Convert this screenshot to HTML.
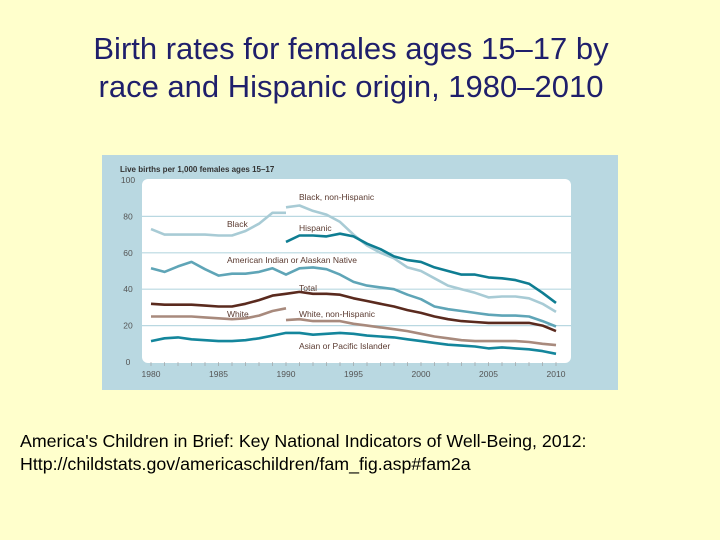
<!DOCTYPE html>
<html><head><meta charset="utf-8"><style>
body{margin:0;width:720px;height:540px;background:#ffffcc;font-family:"Liberation Sans",sans-serif;overflow:hidden;position:relative}
#title{position:absolute;left:0;width:702px;top:30px;text-align:center;font-size:31px;line-height:38px;color:#1f1f6b;white-space:nowrap}
#src{position:absolute;left:20px;top:430px;font-size:17.8px;line-height:23px;color:#000;white-space:nowrap}
svg{position:absolute;left:0;top:0}
</style></head><body>
<div id="title">Birth rates for females ages 15–17 by<br>race and Hispanic origin, 1980–2010</div>
<svg id="chart" width="720" height="540">
<rect x="102" y="155" width="516" height="235" fill="#b9d8e1"/>
<rect x="142" y="179" width="429" height="184" rx="6" fill="#ffffff"/>
<text x="120" y="172" font-size="8" font-weight="bold" fill="#333">Live births per 1,000 females ages 15–17</text>
<g id="grid"></g><g id="lines"></g><g id="labels"></g>
</svg>
<div id="src">America's Children in Brief: Key National Indicators of Well-Being, 2012:<br>Http://childstats.gov/americaschildren/fam_fig.asp#fam2a</div>
<script>
const yTicks=[0,20,40,60,80,100];
const xTicks=[1980,1985,1990,1995,2000,2005,2010];
const black=[73,70,70,70,70,69.5,69.5,72,76,82,82];
const blackNH=[85,86,83,81,77,70,64,60,57,52,50,46,42,40,38,35.5,36,36,35,32,27.5];
const hispanic=[66,69.5,69.5,69,70.5,69,65,62,58,56,55,52,50,48,48,46.5,46,45,43,38,32.5];
const aian=[51.5,49.5,52.5,55,51,47.5,48.5,48.5,49.5,51.5,48,51.5,52,51,48,44,42,41,40,37,34.5,30.5,29,28,27,26,25.5,25.5,25,22.5,19.5];
const total=[32,31.5,31.5,31.5,31,30.5,30.5,32,34,36.5,37.5,38.5,37.5,37.5,37,35,33.5,32,30.5,28.5,27,25,23.5,22.5,22,21.5,21.5,21.5,21.5,20,17];
const white=[25,25,25,25,24.5,24,23.5,24,25.5,28,29.5];
const whiteNH=[23,23.5,22.5,22.5,22.5,21,20,19,18,17,15.5,14,13,12,11.5,11.5,11.5,11.5,11,10,9.3];
const api=[11.5,13,13.5,12.5,12,11.5,11.5,12,13,14.5,16,16,15,15.5,16,15.5,14.5,14,13.5,12.5,11.5,10.5,9.5,9,8.5,7.5,8,7.5,7,6,4.5];
const X=y=>151+(y-1980)*(556-151)/30;
const Y=v=>362-v*1.82;
const NS="http://www.w3.org/2000/svg";
function mk(t,a,p){const e=document.createElementNS(NS,t);for(const k in a)e.setAttribute(k,a[k]);p.appendChild(e);return e;}
const grid=document.getElementById('grid'),lines=document.getElementById('lines'),labels=document.getElementById('labels');
yTicks.forEach(v=>{
 if(v>0&&v<100){const l=mk('line',{x1:142,x2:571,y1:Y(v),y2:Y(v),stroke:'#b9d8e1','stroke-width':1.2},grid);
 
 }
 const t=mk('text',{x:128,y:Y(v)+3,'text-anchor':'middle','font-size':8.5,fill:'#555'},grid);t.textContent=v;
 
 
});
xTicks.forEach(v=>{
 const t=mk('text',{x:X(v),y:377,'text-anchor':'middle','font-size':8.5,fill:'#555'},grid);t.textContent=v;
 
 
});
for(let y=1980;y<=2010;y++){const l=mk('line',{x1:X(y),x2:X(y),y1:362,y2:366,stroke:'#999','stroke-width':0.6},grid);
 
 }
function series(arr,start,color,name){
 const pts=arr.map((v,i)=>X(start+i).toFixed(1)+','+Y(v).toFixed(1)).join(' ');
 const p=mk('polyline',{points:pts,fill:'none',stroke:color,'stroke-width':2.6,'stroke-linejoin':'round'},lines);
 
 
}
series(black,1980,'#a8cbd5','line-black');
series(blackNH,1990,'#a8cbd5','line-black-non-hispanic');
series(aian,1980,'#5fa5b7','line-american-indian');
series(white,1980,'#a88a7d','line-white');
series(whiteNH,1990,'#a88a7d','line-white-non-hispanic');
series(api,1980,'#14869c','line-asian-pacific');
series(total,1980,'#5a2a1e','line-total');
series(hispanic,1990,'#0e7d92','line-hispanic');
const labs=[["Black",227,227,'label-black'],["Black, non-Hispanic",299,200,'label-black-non-hispanic'],["Hispanic",299,231,'label-hispanic'],["American Indian or Alaskan Native",227,263,'label-american-indian'],["Total",299,291,'label-total'],["White",227,317,'label-white'],["White, non-Hispanic",299,317,'label-white-non-hispanic'],["Asian or Pacific Islander",299,349,'label-asian-pacific']];
labs.forEach(l=>{const t=mk('text',{x:l[1],y:l[2],'font-size':8.5,fill:'#5a3a30'},labels);t.textContent=l[0];
 
 });
</script>
</body></html>
